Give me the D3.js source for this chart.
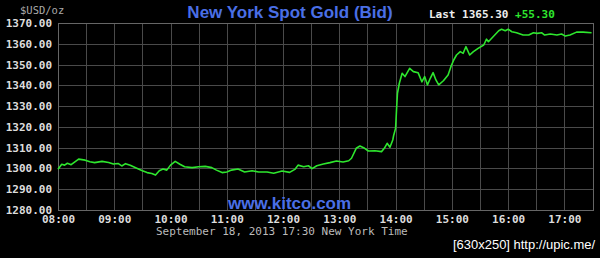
<!DOCTYPE html>
<html>
<head>
<meta charset="utf-8">
<script src="https://cdn.jsdelivr.net/npm/d3@7"></script>
<style>
	html, body { margin: 0; padding: 0; background: #000; }
	svg { display: block; }
</style>
</head>
<body>
<div id="chart"></div>
<script>
	'use strict';

	// bid quotes (New York time, USD/oz)
	var times = ['08:00', '08:04', '08:07', '08:10', '08:14', '08:18', '08:22', '08:29', '08:34', '08:39',
		'08:47', '08:54', '08:59', '09:04', '09:08', '09:12', '09:17', '09:24', '09:30', '09:35',
		'09:40', '09:44', '09:48', '09:52', '09:56', '10:00', '10:05', '10:10', '10:15', '10:23',
		'10:30', '10:37', '10:44', '10:49', '10:55', '11:00', '11:05', '11:12', '11:19', '11:27',
		'11:34', '11:43', '11:50', '11:59', '12:07', '12:13', '12:16', '12:22', '12:27', '12:31',
		'12:36', '12:43', '12:50', '12:57', '13:04', '13:10', '13:13', '13:18', '13:22', '13:27',
		'13:31', '13:38', '13:45', '13:48', '13:51', '13:54', '13:57', '13:58', '14:00', '14:01',
		'14:02', '14:04', '14:07', '14:10', '14:15', '14:19', '14:24', '14:28', '14:31', '14:34',
		'14:37', '14:40', '14:43', '14:46', '14:51', '14:56', '14:59', '15:02', '15:05', '15:09',
		'15:12', '15:15', '15:19', '15:23', '15:28', '15:34', '15:37', '15:39', '15:44', '15:50',
		'15:53', '15:57', '16:00', '16:04', '16:09', '16:16', '16:22', '16:27', '16:31', '16:36',
		'16:39', '16:45', '16:52', '16:57', '17:01', '17:06', '17:13', '17:20', '17:29'];
	var bids = [1299.6, 1302.0, 1301.6, 1302.5, 1301.8, 1303.2, 1304.5, 1304.0, 1303.2, 1302.8,
		1303.4, 1302.9, 1302.1, 1302.4, 1301.2, 1302.3, 1301.5, 1300.1, 1298.9, 1298.0,
		1297.6, 1296.8, 1298.9, 1299.7, 1299.2, 1301.6, 1303.4, 1302.0, 1300.8, 1300.4,
		1300.8, 1301.0, 1300.4, 1299.2, 1298.0, 1298.3, 1299.2, 1299.7, 1298.3, 1298.9,
		1298.3, 1298.3, 1297.7, 1298.8, 1298.1, 1299.7, 1301.6, 1300.8, 1301.3, 1299.9,
		1301.3, 1302.1, 1302.8, 1303.6, 1303.1, 1303.7, 1304.9, 1309.7, 1310.8, 1309.7,
		1308.4, 1308.5, 1308.1, 1309.7, 1312.1, 1310.2, 1313.7, 1316.0, 1319.3, 1328.1,
		1336.2, 1341.0, 1345.8, 1344.2, 1348.2, 1346.6, 1346.1, 1341.7, 1344.2, 1340.2,
		1343.4, 1346.1, 1342.6, 1340.2, 1342.2, 1345.0, 1349.0, 1352.2, 1354.6, 1356.2,
		1355.4, 1358.6, 1354.6, 1356.2, 1357.8, 1359.4, 1362.2, 1361.0, 1363.4, 1366.3,
		1367.0, 1366.3, 1367.0, 1365.8, 1365.3, 1364.2, 1364.2, 1365.3, 1365.0, 1365.3,
		1364.2, 1364.7, 1364.2, 1364.7, 1363.7, 1364.2, 1365.6, 1365.6, 1365.3];

	// axis ticks
	var yTicks = [1280, 1290, 1300, 1310, 1320, 1330, 1340, 1350, 1360, 1370];
	var hourTicks = ['08:00', '09:00', '10:00', '11:00', '12:00', '13:00', '14:00', '15:00', '16:00', '17:00'];
	var halfTicks = ['08:30', '09:30', '10:30', '11:30', '12:30', '13:30', '14:30', '15:30', '16:30', '17:30'];

	// header texts
	var title = 'New York Spot Gold (Bid)';
	var lastText = 'Last 1365.30';
	var changeText = '+55.30';
	var unitText = '$USD/oz';
	var stampText = 'September 18, 2013 17:30 New York Time';
	var siteText = 'www.kitco.com';
	var creditText = '[630x250] http://upic.me/';

	var width = 600, height = 258;
	var plot = { left: 58, right: 592.5, top: 23, bottom: 210 };
	var mono = '"DejaVu Sans Mono", "Liberation Mono", monospace';
	var sans = '"Liberation Sans", Arial, sans-serif';

	var parse = d3.timeParse('%H:%M');
	var data = times.map(function (t, i) {
		return { t: parse(t), v: bids[i] };
	});

	var x = d3.scaleTime()
		.domain([parse('08:00'), parse('17:30')])
		.range([plot.left, plot.right]);
	var y = d3.scaleLinear()
		.domain([1280, 1370])
		.range([plot.bottom, plot.top]);

	var svg = d3.select('#chart').append('svg')
		.attr('width', width)
		.attr('height', height);

	svg.append('rect')
		.attr('width', width)
		.attr('height', height)
		.attr('fill', '#000');

	// grid: every half hour vertically, every 10 dollars horizontally
	var grid = svg.append('g')
		.attr('stroke', '#4a4a4a')
		.attr('stroke-width', 1)
		.attr('shape-rendering', 'crispEdges');

	grid.selectAll('.vgrid')
		.data(hourTicks.concat(halfTicks).map(parse))
		.enter().append('line')
		.attr('class', 'vgrid')
		.attr('x1', function (d) { return Math.round(x(d)) + 0.5; })
		.attr('x2', function (d) { return Math.round(x(d)) + 0.5; })
		.attr('y1', plot.top)
		.attr('y2', plot.bottom);

	grid.selectAll('.hgrid')
		.data(yTicks)
		.enter().append('line')
		.attr('class', 'hgrid')
		.attr('x1', plot.left)
		.attr('x2', plot.right)
		.attr('y1', function (d) { return Math.round(y(d)) + 0.5; })
		.attr('y2', function (d) { return Math.round(y(d)) + 0.5; });

	// frame round the plot
	svg.append('rect')
		.attr('x', plot.left + 0.5)
		.attr('y', plot.top + 0.5)
		.attr('width', plot.right - plot.left)
		.attr('height', plot.bottom - plot.top)
		.attr('fill', 'none')
		.attr('stroke', '#666')
		.attr('shape-rendering', 'crispEdges');

	// y axis labels
	var yAxis = d3.axisLeft(y)
		.tickValues(yTicks)
		.tickFormat(d3.format('.2f'))
		.tickSize(0)
		.tickPadding(6);

	var yg = svg.append('g')
		.attr('transform', 'translate(' + plot.left + ',0)')
		.call(yAxis);
	yg.select('.domain').remove();
	yg.selectAll('text')
		.attr('fill', '#ddd')
		.style('font-family', mono)
		.style('font-size', '11px')
		.style('font-weight', 'bold');

	// x axis labels on the hours
	var xAxis = d3.axisBottom(x)
		.tickValues(hourTicks.map(parse))
		.tickFormat(d3.timeFormat('%H:%M'))
		.tickSize(0)
		.tickPadding(5);

	var xg = svg.append('g')
		.attr('transform', 'translate(0,' + plot.bottom + ')')
		.call(xAxis);
	xg.select('.domain').remove();
	xg.selectAll('text')
		.attr('fill', '#ddd')
		.style('font-family', mono)
		.style('font-size', '11px')
		.style('font-weight', 'bold');

	// the price line
	var line = d3.line()
		.x(function (d) { return x(d.t); })
		.y(function (d) { return y(d.v); })
		.curve(d3.curveLinear);

	svg.append('path')
		.datum(data)
		.attr('d', line)
		.attr('fill', 'none')
		.attr('stroke', '#2ee62e')
		.attr('stroke-width', 1.6)
		.attr('stroke-linejoin', 'round');

	// titles and captions
	svg.append('text')
		.attr('x', 290)
		.attr('y', 18)
		.attr('text-anchor', 'middle')
		.style('font-family', sans)
		.style('font-weight', 'bold')
		.style('font-size', '17px')
		.attr('fill', '#4a6fe6')
		.text(title);

	var last = svg.append('text')
		.attr('x', 429)
		.attr('y', 18)
		.style('font-family', mono)
		.style('font-size', '11px')
		.style('font-weight', 'bold');
	last.append('tspan').attr('fill', '#eee').text(lastText + ' ');
	last.append('tspan').attr('fill', '#2ee62e').text(changeText);

	svg.append('text')
		.attr('x', 20)
		.attr('y', 14)
		.style('font-family', mono)
		.style('font-size', '10.5px')
		.attr('fill', '#aaa')
		.text(unitText);

	svg.append('text')
		.attr('x', 156)
		.attr('y', 235)
		.style('font-family', mono)
		.style('font-size', '11px')
		.attr('fill', '#bbb')
		.text(stampText);

	svg.append('text')
		.attr('x', 228)
		.attr('y', 209)
		.style('font-family', sans)
		.style('font-weight', 'bold')
		.style('font-size', '17px')
		.attr('fill', '#4a6fe6')
		.text(siteText);

	svg.append('text')
		.attr('x', 453)
		.attr('y', 249)
		.attr('textLength', 142)
		.attr('lengthAdjust', 'spacingAndGlyphs')
		.style('font-family', sans)
		.style('font-size', '13px')
		.attr('fill', '#fff')
		.text(creditText);
</script>
</body>
</html>
